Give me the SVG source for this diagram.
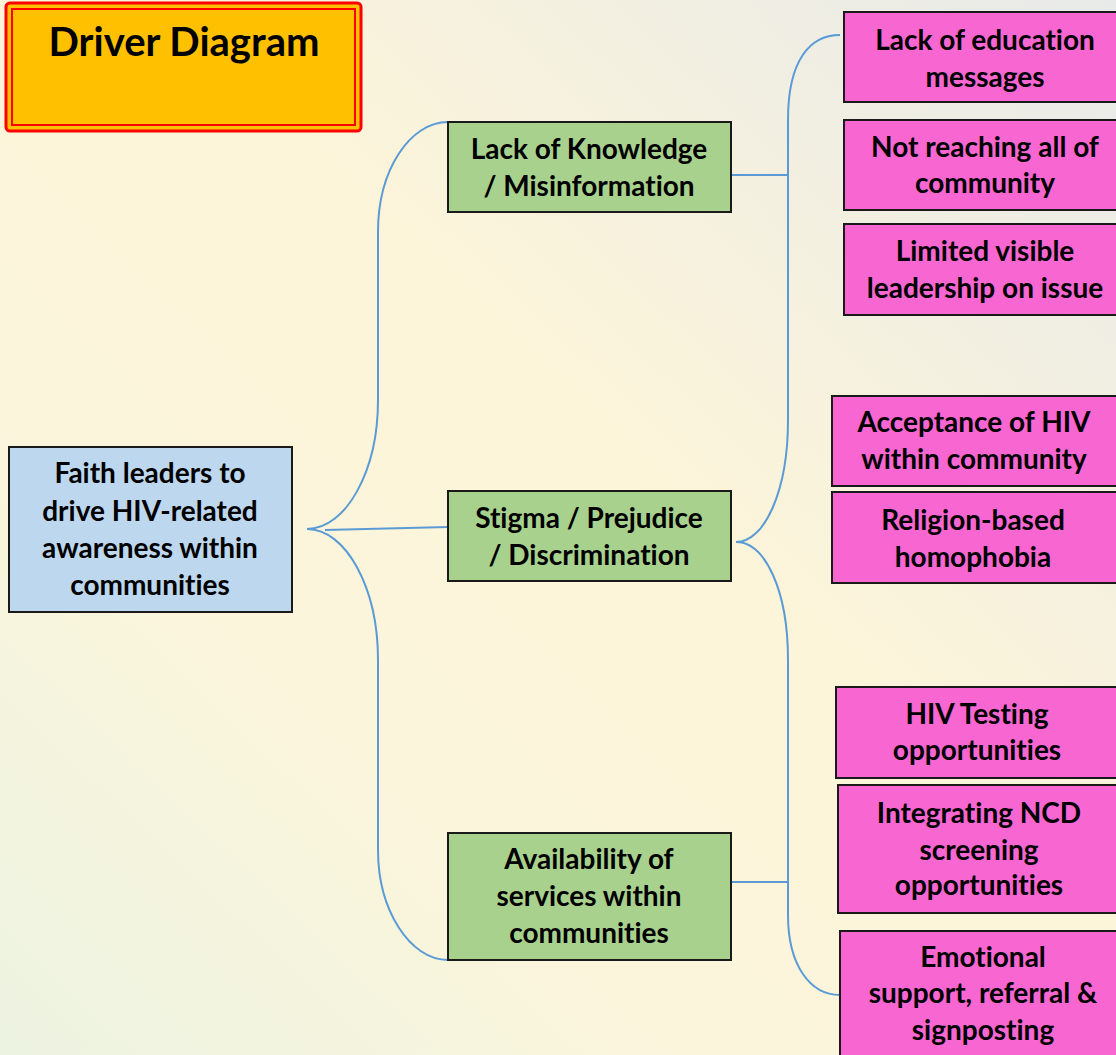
<svg xmlns="http://www.w3.org/2000/svg" width="1116" height="1055" viewBox="0 0 1116 1055">
<defs>
<linearGradient id="bg" x1="1" y1="0" x2="0" y2="1">
<stop offset="0" stop-color="#e8eae9"/>
<stop offset="0.45" stop-color="#fdf5d9"/>
<stop offset="0.7" stop-color="#fbf5dc"/>
<stop offset="1" stop-color="#ecf3e1"/>
</linearGradient>
<style>
.t{font-family:Lato,"Open Sans","Liberation Sans",sans-serif;font-weight:bold;font-size:28px;fill:#000;text-anchor:middle;font-variant-ligatures:none}
.pink{fill:#f866d1;stroke:#1a1a1a;stroke-width:2}
.green{fill:#a9d18e;stroke:#1a1a1a;stroke-width:2}
.blue{fill:#bdd7ee;stroke:#1a1a1a;stroke-width:2}
.c{fill:none;stroke:#5b9bd5;stroke-width:2}
</style>
</defs>
<rect width="1116" height="1055" fill="url(#bg)"/>
<g id="title">
<rect x="6" y="3" width="355" height="128" rx="4" fill="#ffc000" stroke="#ff0000" stroke-width="3"/>
<rect x="12" y="9" width="343" height="116" fill="none" stroke="#ff0000" stroke-width="2"/>
<text class="t" x="184" y="56" style="font-size:40px">Driver Diagram</text>
</g>
<g id="connectors">
<path class="c" d="M448,122 C410,122 378,170 378,232 L378,400 C378,471 346,529 307,529 C346,529 378,588 378,660 L378,850 C378,910 410,960 448,960"/>
<path class="c" d="M325,530 L448,527"/>
<path class="c" d="M840,35 C810,35 788,60 788,120 L788,420 C788,490 765,542 736,542 C765,542 788,590 788,660 L788,915 C788,965 810,995 840,995"/>
<path class="c" d="M731,175 L788,175"/>
<path class="c" d="M731,882 L788,882"/>
</g>
<g id="root">
<rect class="blue" x="9" y="447" width="283" height="165"/>
<text class="t" x="150" y="483">Faith leaders to</text>
<text class="t" x="150" y="521">drive HIV-related</text>
<text class="t" x="150" y="558">awareness within</text>
<text class="t" x="150" y="595">communities</text>
</g>
<g id="knowledge">
<rect class="green" x="448" y="122" width="283" height="90"/>
<text class="t" x="589" y="159">Lack of Knowledge</text>
<text class="t" x="589" y="196">/ Misinformation</text>
</g>
<g id="stigma">
<rect class="green" x="448" y="491" width="283" height="90"/>
<text class="t" x="589" y="528">Stigma / Prejudice</text>
<text class="t" x="589" y="565">/ Discrimination</text>
</g>
<g id="availability">
<rect class="green" x="448" y="833" width="283" height="127"/>
<text class="t" x="589" y="869">Availability of</text>
<text class="t" x="589" y="906">services within</text>
<text class="t" x="589" y="943">communities</text>
</g>
<g id="p1">
<rect class="pink" x="844" y="12" width="280" height="90"/>
<text class="t" x="985" y="50">Lack of education</text>
<text class="t" x="985" y="87">messages</text>
</g>
<g id="p2">
<rect class="pink" x="844" y="120" width="280" height="90"/>
<text class="t" x="985" y="157">Not reaching all of</text>
<text class="t" x="985" y="193">community</text>
</g>
<g id="p3">
<rect class="pink" x="844" y="224" width="280" height="91"/>
<text class="t" x="985" y="261">Limited visible</text>
<text class="t" x="985" y="298">leadership on issue</text>
</g>
<g id="p4">
<rect class="pink" x="832" y="396" width="292" height="90"/>
<text class="t" x="974" y="432">Acceptance of HIV</text>
<text class="t" x="974" y="469">within community</text>
</g>
<g id="p5">
<rect class="pink" x="832" y="492" width="292" height="91"/>
<text class="t" x="973" y="530">Religion-based</text>
<text class="t" x="973" y="567">homophobia</text>
</g>
<g id="p6">
<rect class="pink" x="836" y="687" width="288" height="91"/>
<text class="t" x="977" y="724">HIV Testing</text>
<text class="t" x="977" y="760">opportunities</text>
</g>
<g id="p7">
<rect class="pink" x="838" y="785" width="286" height="128"/>
<text class="t" x="979" y="823">Integrating NCD</text>
<text class="t" x="979" y="860">screening</text>
<text class="t" x="979" y="895">opportunities</text>
</g>
<g id="p8">
<rect class="pink" x="840" y="931" width="284" height="130"/>
<text class="t" x="983" y="967">Emotional</text>
<text class="t" x="983" y="1003">support, referral &amp;</text>
<text class="t" x="983" y="1040">signposting</text>
</g>
</svg>
